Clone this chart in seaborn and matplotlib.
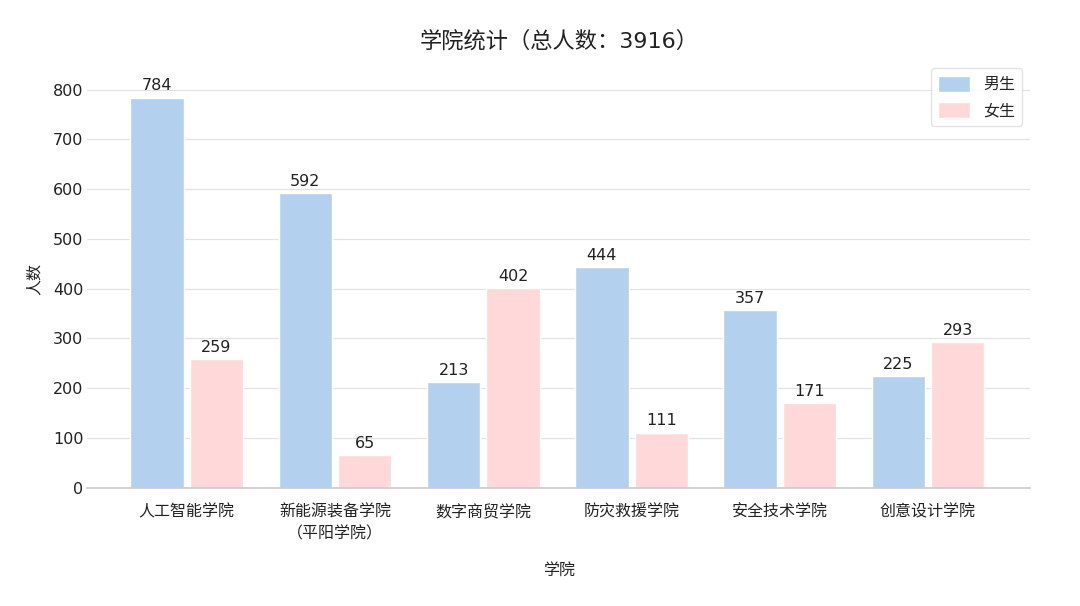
import pandas as pd
import matplotlib
matplotlib.use("Agg")
import matplotlib.pyplot as plt
import seaborn as sns

# data
colleges = ["人工智能学院", "新能源装备学院\n（平阳学院）", "数字商贸学院",
            "防灾救援学院", "安全技术学院", "创意设计学院"]
male = [784, 592, 213, 444, 357, 225]
female = [259, 65, 402, 111, 171, 293]
genders = ["男生", "女生"]

df = pd.DataFrame({
    "学院": colleges * 2,
    "人数": male + female,
    "性别": [genders[0]] * len(colleges) + [genders[1]] * len(colleges),
})
total = sum(male) + sum(female)

sns.set_theme(style="whitegrid")
plt.rcParams["font.family"] = ["DejaVu Sans", "Noto Sans CJK SC"]

fig = plt.figure(figsize=(10.8, 6.06), dpi=100)
ax = fig.add_axes([0.081, 0.195, 0.873, 0.69])

sns.barplot(data=df, x="学院", y="人数", hue="性别",
            palette=["#b3d1ee", "#ffd9d9"], width=0.8, gap=0.1,
            ax=ax, saturation=1)

for cont in ax.containers:
    ax.bar_label(cont, padding=3, fontsize=11.5, color="#222222")

ax.set_xlim(-0.67, 5.69)
ax.set_ylim(0, 840)
ax.set_yticks(range(0, 801, 100))
ax.grid(axis="x", visible=False)
ax.grid(axis="y", color="#e3e3e3", linewidth=0.9)
for s in ["top", "right", "left"]:
    ax.spines[s].set_visible(False)
ax.spines["bottom"].set_color("#cccccc")
ax.tick_params(axis="both", labelsize=11.5, colors="#222222", length=0)
ax.tick_params(axis="x", pad=12)
ax.tick_params(axis="y", pad=3)
for lbl in ax.get_xticklabels():
    lbl.set_linespacing(1.5)
ax.set_xlabel("学院", fontsize=11.5, labelpad=16, color="#222222")
ax.set_ylabel("人数", fontsize=11.5, labelpad=8, color="#222222")
ax.set_title(f"学院统计（总人数：{total}）", fontsize=16, pad=16, color="#222222")

leg = ax.legend(loc="upper right", fontsize=11.5, frameon=True,
                bbox_to_anchor=(1.0, 1.022), handlelength=2.0,
                handleheight=1.2, labelspacing=0.6, borderpad=0.45,
                handletextpad=0.8)
leg.get_frame().set_edgecolor("#dddddd")
leg.set_title(None)

fig.savefig("out.png", dpi=100, facecolor="white")
